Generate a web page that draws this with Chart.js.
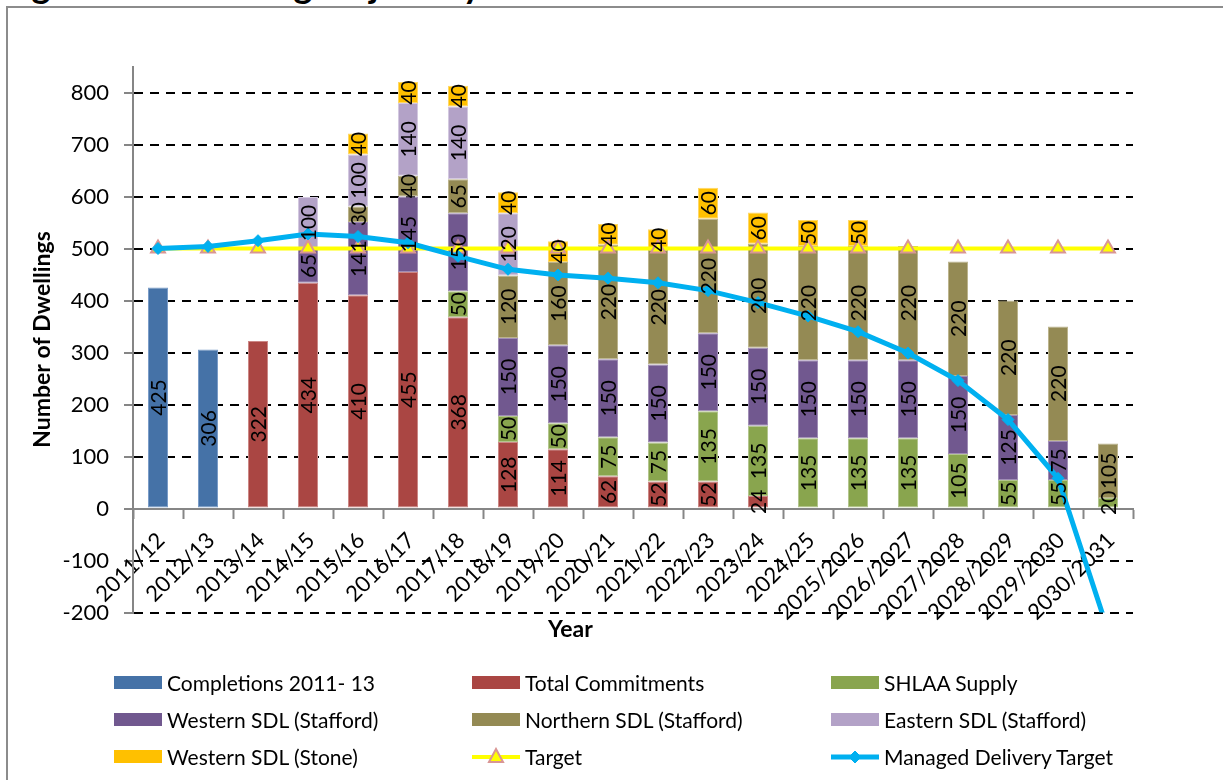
<!DOCTYPE html>
<html>
<head>
<meta charset="utf-8">
<title>Housing Trajectory</title>
<script src="https://cdn.jsdelivr.net/npm/chart.js@4.4.1/dist/chart.umd.min.js"></script>
<style>
  html, body { margin: 0; padding: 0; background: #fff; }
  body { width: 1223px; height: 780px; position: relative; overflow: hidden; font-family: Lato, sans-serif; }
  #frame { position: absolute; left: 6px; top: 6px; width: 1400px; height: 1000px;
           border-left: 2px solid #8c8c8c; border-top: 2px solid #8c8c8c; }
  #heading { position: absolute; left: 2px; top: -34px; font: bold 36px Lato, sans-serif;
             line-height: 36px; white-space: nowrap; color: #000; }
  #chart { position: absolute; left: 0; top: 0; }
  #xTitle { position: absolute; left: 548px; top: 614px; font: bold 23px Lato, sans-serif;
            line-height: 28px; color: #000; }
  .lg { position: absolute; height: 24px; display: flex; align-items: center;
        font: 21px Lato, sans-serif; color: #000; white-space: nowrap; }
  .lg .sw { width: 48px; height: 13px; margin-right: 5px; flex: none; }
  .lg svg { margin-right: 5px; flex: none; }
</style>
</head>
<body>
<div id="frame"></div>
<div id="heading">Figure 4.1: Housing Trajectory</div>
<canvas id="chart" width="1223" height="780"></canvas>
<div id="xTitle">Year</div>
<div id="legend"></div>
<script>
// Monitoring years
const years = ['2011/12', '2012/13', '2013/14', '2014/15', '2015/16', '2016/17', '2017/18',
  '2018/19', '2019/20', '2020/21', '2021/22', '2022/23', '2023/24', '2024/25',
  '2025/2026', '2026/2027', '2027/2028', '2028/2029', '2029/2030', '2030/2031'];

// Dwellings per year by source of supply
const completions      = [425, 306, null, null, null, null, null, null, null, null, null, null, null, null, null, null, null, null, null, null];
const commitments      = [null, null, 322, 434, 410, 455, 368, 128, 114, 62, 52, 52, 24, null, null, null, null, null, null, null];
const shlaaSupply      = [null, null, null, null, null, null, 50, 50, 50, 75, 75, 135, 135, 135, 135, 135, 105, 55, 55, 20];
const westernStafford  = [null, null, null, 65, 141, 145, 150, 150, 150, 150, 150, 150, 150, 150, 150, 150, 150, 125, 75, null];
const northernStafford = [null, null, null, null, 30, 40, 65, 120, 160, 220, 220, 220, 200, 220, 220, 220, 220, 220, 220, 105];
const easternStafford  = [null, null, null, 100, 100, 140, 140, 120, null, null, null, null, null, null, null, null, null, null, null, null];
const westernStone     = [null, null, null, null, 40, 40, 40, 40, 40, 40, 40, 60, 60, 50, 50, null, null, null, null, null];

// Annual requirement and the managed delivery target
const target  = [500, 500, 500, 500, 500, 500, 500, 500, 500, 500, 500, 500, 500, 500, 500, 500, 500, 500, 500, 500];
const managed = [500, 504, 515, 528, 523, 511, 485, 460, 449, 443, 434, 419, 396, 370, 340, 299, 246, 171, 58, -235];

// Value axis tick labels
const yTicks = [-200, -100, 0, 100, 200, 300, 400, 500, 600, 700, 800];

const FONT = 'Lato';
const AXIS_GREY = '#868686';

function barSet(label, data, color, edge) {
  return {
    type: 'bar', label, data, stack: 'supply', order: 2,
    backgroundColor: color, borderColor: edge, borderWidth: 1, borderSkipped: false,
    barPercentage: 0.4, categoryPercentage: 1.0
  };
}

const datasets = [
  barSet('Completions 2011- 13', completions, '#4572A7', '#7A9CC8'),
  barSet('Total Commitments', commitments, '#AA4643', '#CC8785'),
  barSet('SHLAA Supply', shlaaSupply, '#89A54E', '#B3C68E'),
  barSet('Western SDL (Stafford)', westernStafford, '#71588F', '#A08DB6'),
  barSet('Northern SDL (Stafford)', northernStafford, '#948A54', '#BCB48D'),
  barSet('Eastern SDL (Stafford)', easternStafford, '#B3A2C7', '#D3C8E0'),
  barSet('Western SDL (Stone)', westernStone, '#FFC000', '#FFD866'),
  {
    type: 'line', label: 'Target', data: target, stack: 'target', order: 1,
    borderColor: '#FFFF00', borderWidth: 4, tension: 0,
    pointStyle: 'triangle', pointRadius: 8, pointBackgroundColor: '#FFFF00',
    pointBorderColor: '#D99694', pointBorderWidth: 2,
    clip: {left: 12, right: 12, top: 12, bottom: 0}
  },
  {
    type: 'line', label: 'Managed Delivery Target', data: managed, stack: 'managed', order: 0,
    borderColor: '#00B0F0', borderWidth: 5, tension: 0,
    pointStyle: 'rectRot', pointRadius: 6, pointBackgroundColor: '#00B0F0',
    pointBorderColor: '#00B0F0', pointBorderWidth: 1,
    clip: {left: 12, right: 12, top: 12, bottom: 0}
  }
];

// Values written vertically in the middle of each bar segment
const segmentLabels = {
  id: 'segmentLabels',
  afterDatasetsDraw(chart) {
    const ctx = chart.ctx;
    ctx.save();
    ctx.font = '21px ' + FONT;
    ctx.fillStyle = '#000';
    ctx.textAlign = 'center';
    ctx.textBaseline = 'middle';
    chart.data.datasets.forEach((ds, di) => {
      const meta = chart.getDatasetMeta(di);
      if (meta.type !== 'bar' || meta.hidden) return;
      meta.data.forEach((bar, i) => {
        const v = ds.data[i];
        if (v === null || v === undefined) return;
        const p = bar.getProps(['x', 'y', 'base'], true);
        ctx.save();
        ctx.translate(p.x + 1, (p.y + p.base) / 2);
        ctx.rotate(-Math.PI / 2);
        ctx.fillText(String(v), 0, 0);
        ctx.restore();
      });
    });
    ctx.restore();
  }
};

const chart = new Chart(document.getElementById('chart'), {
  type: 'bar',
  data: { labels: years, datasets },
  options: {
    responsive: false,
    animation: false,
    events: [],
    layout: { padding: { left: 0, right: 90, top: 66.5, bottom: 167.5 } },
    plugins: { legend: { display: false }, tooltip: { enabled: false } },
    scales: {
      x: {
        stacked: true,
        position: { y: 0 },
        offset: true,
        grid: { display: true, drawOnChartArea: false, drawTicks: true, offset: true,
                tickLength: 9, tickColor: AXIS_GREY, tickWidth: 2 },
        border: { display: true, color: AXIS_GREY, width: 2 },
        ticks: { font: { family: FONT, size: 22 }, color: '#000', autoSkip: false,
                 minRotation: 45, maxRotation: 45, padding: 10, labelOffset: 3 }
      },
      y: {
        stacked: true,
        min: -200, max: 850,
        afterBuildTicks: s => { s.ticks = yTicks.map(v => ({ value: v })); },
        afterFit: s => { s.width = 133; },
        grid: {
          color: c => (c.tick && c.tick.value === 0) ? 'rgba(0,0,0,0)' : '#000',
          lineWidth: 2, drawTicks: true, tickLength: 9, tickColor: AXIS_GREY, tickWidth: 2
        },
        border: { display: true, color: AXIS_GREY, width: 2, dash: [9, 7] },
        ticks: { font: { family: FONT, size: 22 }, color: '#000', padding: 15 },
        title: { display: true, text: 'Number of Dwellings', color: '#000',
                 font: { family: FONT, size: 23, weight: 'bold' }, padding: { top: 29, bottom: 0 } }
      }
    }
  },
  plugins: [segmentLabels]
});

// Legend laid out in three columns beneath the plot
const LEGEND_COLS = [114, 472, 831];
const LEGEND_ROWS = [682.5, 719.5, 756.5];
const legend = document.getElementById('legend');
chart.data.datasets.forEach((ds, i) => {
  const item = document.createElement('div');
  item.className = 'lg';
  item.style.left = LEGEND_COLS[i % 3] + 'px';
  item.style.top = (LEGEND_ROWS[Math.floor(i / 3)] - 12) + 'px';
  if (ds.type === 'bar') {
    const sw = document.createElement('span');
    sw.className = 'sw';
    sw.style.background = ds.backgroundColor;
    item.appendChild(sw);
  } else {
    const ns = 'http://www.w3.org/2000/svg';
    const svg = document.createElementNS(ns, 'svg');
    svg.setAttribute('width', '48'); svg.setAttribute('height', '20');
    const ln = document.createElementNS(ns, 'line');
    ln.setAttribute('x1', '0'); ln.setAttribute('x2', '48');
    ln.setAttribute('y1', '10'); ln.setAttribute('y2', '10');
    ln.setAttribute('stroke', ds.borderColor); ln.setAttribute('stroke-width', ds.borderWidth);
    svg.appendChild(ln);
    const mk = document.createElementNS(ns, 'polygon');
    mk.setAttribute('points', ds.pointStyle === 'triangle'
      ? '24,2 31,15 17,15' : '24,4 30,10 24,16 18,10');
    mk.setAttribute('fill', ds.pointBackgroundColor);
    mk.setAttribute('stroke', ds.pointBorderColor);
    mk.setAttribute('stroke-width', ds.pointBorderWidth);
    svg.appendChild(mk);
    item.appendChild(svg);
  }
  const tx = document.createElement('span');
  tx.textContent = ds.label;
  item.appendChild(tx);
  legend.appendChild(item);
});
</script>
</body>
</html>
